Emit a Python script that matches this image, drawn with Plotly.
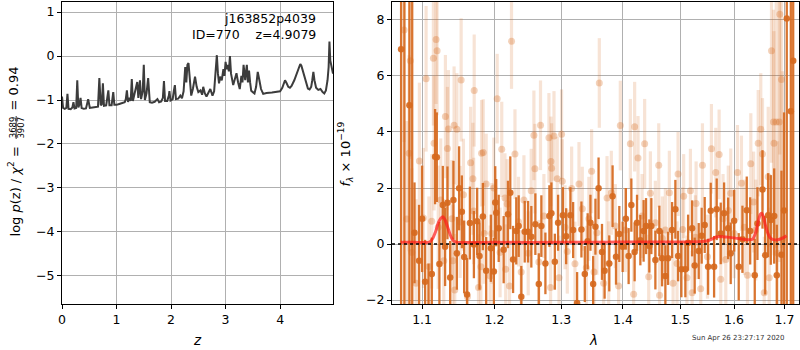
import plotly.graph_objects as go

# ---------------- data: left panel, log p(z) ----------------
PZ_Z = [
    0.00, 0.02, 0.05, 0.08, 0.10, 0.12, 0.16, 0.19, 0.21, 0.23,
    0.26, 0.28, 0.30, 0.32, 0.34, 0.36, 0.40, 0.44, 0.48, 0.51,
    0.56, 0.62, 0.66, 0.685, 0.71, 0.73, 0.75, 0.77, 0.81, 0.85,
    0.87, 0.91, 0.94, 0.96, 1.00, 1.05, 1.10, 1.15, 1.17, 1.19,
    1.21, 1.24, 1.26, 1.28, 1.30, 1.33, 1.36, 1.38, 1.40, 1.43,
    1.45, 1.48, 1.50, 1.52, 1.55, 1.58, 1.61, 1.65, 1.70, 1.75,
    1.78, 1.82, 1.85, 1.87, 1.89, 1.93, 1.96, 1.97, 1.99, 2.03,
    2.05, 2.07, 2.09, 2.13, 2.17, 2.20, 2.23, 2.26, 2.28, 2.30,
    2.32, 2.34, 2.37, 2.40, 2.44, 2.47, 2.50, 2.54, 2.57, 2.59,
    2.62, 2.65, 2.69, 2.72, 2.76, 2.79, 2.82, 2.84, 2.86, 2.88,
    2.90, 2.93, 2.96, 2.98, 3.00, 3.02, 3.04, 3.06, 3.08, 3.10,
    3.14, 3.17, 3.20, 3.23, 3.26, 3.29, 3.31, 3.33, 3.35, 3.36,
    3.38, 3.39, 3.41, 3.43, 3.45, 3.47, 3.50, 3.53, 3.56, 3.59,
    3.62, 3.65, 3.69, 3.75, 3.85, 3.95, 4.00, 4.04, 4.07, 4.09,
    4.12, 4.15, 4.18, 4.21, 4.26, 4.30, 4.34, 4.37, 4.39, 4.42,
    4.45, 4.48, 4.51, 4.54, 4.57, 4.59, 4.61, 4.63, 4.66, 4.70,
    4.74, 4.78, 4.81, 4.84, 4.87, 4.89, 4.905, 4.92, 4.94, 4.97,
]
PZ_LOGP = [
    -0.92, -1.18, -1.20, -1.18, -0.86, -1.20, -1.21, -1.17, -1.05, -1.19,
    -1.18, -0.55, -1.17, -1.10, -0.95, -1.18, -1.20, -1.19, -0.98, -1.18,
    -1.17, -1.16, -1.15, -0.50, -1.12, -1.10, -0.62, -1.13, -1.12, -0.78,
    -1.12, -1.12, -0.82, -1.11, -1.11, -1.09, -1.07, -1.05, -0.98, -0.78,
    -1.04, -0.95, -1.02, -0.52, -1.02, -0.85, -0.75, -0.59, -0.95, -0.55,
    -0.98, -0.80, -0.20, -1.00, -0.85, -0.50, -1.05, -1.06, -1.04, -0.98,
    -1.05, -1.03, -0.95, -0.57, -1.02, -1.02, -0.90, -0.80, -1.01, -0.98,
    -0.80, -0.66, -0.98, -0.97, -0.90, -0.96, -0.80, -0.25, -0.60, -0.20,
    -0.16, -0.55, -0.90, -0.75, -0.47, -0.70, -0.82, -0.78, -0.88, -0.70,
    -0.85, -0.92, -0.82, -0.75, -0.90, -0.80, -0.30, 0.02, -0.40, -0.62,
    -0.47, -0.55, -0.30, -0.45, -0.13, -0.30, -0.20, -0.35, 0.00, -0.40,
    -0.66, -0.50, -0.39, -0.60, -0.75, -0.45, -0.60, -0.20, -0.50, -0.55,
    -0.30, -0.20, -0.60, -0.33, -0.60, -0.79, -0.82, -0.85, -0.70, -0.36,
    -0.55, -0.75, -0.86, -0.84, -0.83, -0.82, -0.80, -0.72, -0.58, -0.55,
    -0.62, -0.70, -0.72, -0.68, -0.55, -0.42, -0.28, -0.18, -0.22, -0.35,
    -0.50, -0.65, -0.74, -0.76, -0.70, -0.55, -0.36, -0.55, -0.72, -0.77,
    -0.75, -0.82, -0.85, -0.78, -0.55, -0.25, 0.33, -0.10, -0.25, -0.40,
]

# ---------------- data: right panel, spectrum ----------------
DARK_WAVE = [
    1.0726, 1.0768, 1.0833, 1.0870, 1.0900, 1.0960, 1.1000, 1.1040, 1.1085, 1.1129,
    1.1173, 1.1196, 1.1231, 1.1277, 1.1308, 1.1340, 1.1377, 1.1422, 1.1469, 1.1500,
    1.1538, 1.1570, 1.1610, 1.1650, 1.1706, 1.1752, 1.1785, 1.1833, 1.1880, 1.1947,
    1.1990, 1.2010, 1.2024, 1.2060, 1.2132, 1.2195, 1.2229, 1.2270, 1.2317, 1.2353,
    1.2392, 1.2443, 1.2493, 1.2542, 1.2603, 1.2655, 1.2694, 1.2756, 1.2817, 1.2848,
    1.2901, 1.2952, 1.3026, 1.3078, 1.3145, 1.3188, 1.3251, 1.3320, 1.3374, 1.3420,
    1.3465, 1.3509, 1.3546, 1.3597, 1.3653, 1.3696, 1.3773, 1.3828, 1.3885, 1.3940,
    1.3996, 1.4050, 1.4097, 1.4143, 1.4199, 1.4240, 1.4297, 1.4353, 1.4395, 1.4452,
    1.4487, 1.4557, 1.4627, 1.4675, 1.4733, 1.4781, 1.4852, 1.4911, 1.4960, 1.5019,
    1.5091, 1.5141, 1.5214, 1.5261, 1.5335, 1.5390, 1.5446, 1.5509, 1.5558, 1.5621,
    1.5670, 1.5746, 1.5810, 1.5887, 1.5936, 1.6002, 1.6090, 1.6162, 1.6246, 1.6313,
    1.6403, 1.6456, 1.6556, 1.6610, 1.6669, 1.6722, 1.6790, 1.6843, 1.6938, 1.6990,
    1.7046, 1.7129, 1.7178,
]
DARK_FLUX = [
    6.95, -3.50, 4.95, 9.50, 0.40, -0.60, 0.90, -1.35, -2.30, -1.07,
    3.12, 3.10, -0.71, 1.39, -0.10, 1.47, -1.19, 1.57, -0.33, 1.99,
    1.15, -0.46, -1.80, 0.75, -0.02, 0.81, -0.43, 0.98, -0.95, -0.15,
    -0.98, 1.48, 1.12, 0.56, -0.20, 1.06, 1.83, -0.55, 0.47, 0.64,
    -1.88, 0.44, 0.44, 0.26, 0.71, -1.43, 0.64, -0.69, 1.00, 1.10,
    -0.63, 0.76, 1.03, 0.28, 1.03, 0.50, -2.10, 0.52, -1.07, 0.10,
    0.76, -1.43, 0.62, 1.99, -0.28, -0.95, -0.69, 1.71, -0.45, 0.36,
    -0.10, 0.90, -0.43, 1.39, -0.28, 0.76, 0.14, 0.47, 0.64, -0.07,
    0.64, -0.57, 0.47, -0.51, -1.14, -0.51, 0.50, 1.24, -0.43, -0.90,
    -0.90, 0.05, 0.56, -0.77, -0.25, 0.30, 0.68, -0.81, 1.19, -0.81,
    1.24, 0.38, 1.10, 0.56, -0.33, 0.83, -0.81, 0.17, 1.21, 0.47,
    -1.11, 0.73, 1.95, -0.40, 1.03, 0.86, 1.00, -1.11, -0.38, 1.20,
    8.05, 4.74, 6.54,
]
DARK_ERR = [
    12.0, 14.0, 11.0, 12.0, 1.8, 2.0, 1.9, 1.5, 1.6, 1.3,
    1.7, 1.6, 1.5, 1.4, 1.4, 1.3, 1.3, 1.4, 1.3, 1.5,
    1.3, 1.3, 1.3, 1.3, 1.2, 1.2, 1.2, 1.2, 1.2, 1.2,
    1.2, 1.3, 1.2, 1.2, 1.2, 1.2, 1.3, 1.2, 1.2, 1.1,
    1.1, 1.1, 1.1, 1.1, 1.1, 1.1, 1.1, 1.1, 1.1, 1.1,
    1.0, 1.0, 1.0, 1.0, 1.0, 1.0, 1.1, 1.0, 1.0, 1.0,
    1.0, 1.0, 1.0, 1.1, 1.0, 1.0, 1.0, 1.1, 1.0, 1.0,
    0.9, 1.1, 1.0, 0.95, 1.05, 1.0, 0.9, 1.1, 1.0, 0.95,
    1.0, 1.05, 0.9, 1.0, 1.1, 0.95, 1.0, 1.05, 0.9, 1.0,
    1.0, 1.0, 1.0, 1.0, 1.0, 1.0, 1.0, 1.0, 1.0, 1.1,
    1.1, 1.1, 1.1, 1.1, 1.1, 1.1, 1.2, 1.2, 1.2, 1.2,
    1.3, 1.3, 1.4, 1.4, 1.5, 1.6, 1.7, 1.8, 3.0, 3.5,
    12.0, 12.0, 12.0,
]

LIGHT_WAVE = [
    1.0764, 1.0799, 1.0829, 1.0845, 1.0865, 1.0920, 1.0964, 1.1017, 1.1053, 1.1090,
    1.1128, 1.1150, 1.1159, 1.1186, 1.1200, 1.1215, 1.1249, 1.1290, 1.1312, 1.1340,
    1.1353, 1.1400, 1.1414, 1.1431, 1.1440, 1.1469, 1.1514, 1.1528, 1.1560, 1.1616,
    1.1660, 1.1692, 1.1703, 1.1710, 1.1771, 1.1805, 1.1814, 1.1838, 1.1852, 1.1880,
    1.1937, 1.1961, 1.1990, 1.2038, 1.2080, 1.2104, 1.2151, 1.2162, 1.2184, 1.2218,
    1.2247, 1.2298, 1.2350, 1.2390, 1.2431, 1.2495, 1.2540, 1.2581, 1.2596, 1.2656,
    1.2681, 1.2733, 1.2810, 1.2835, 1.2841, 1.2851, 1.2888, 1.2939, 1.2966, 1.3006,
    1.3017, 1.3060, 1.3096, 1.3164, 1.3217, 1.3281, 1.3334, 1.3398, 1.3440, 1.3484,
    1.3523, 1.3570, 1.3609, 1.3680, 1.3736, 1.3763, 1.3807, 1.3873, 1.3928, 1.3957,
    1.4041, 1.4126, 1.4182, 1.4199, 1.4257, 1.4326, 1.4371, 1.4441, 1.4470, 1.4557,
    1.4616, 1.4630, 1.4680, 1.4733, 1.4804, 1.4870, 1.4941, 1.4959, 1.5042, 1.5060,
    1.5120, 1.5183, 1.5214, 1.5274, 1.5287, 1.5372, 1.5404, 1.5497, 1.5571, 1.5652,
    1.5716, 1.5746, 1.5790, 1.5842, 1.5890, 1.5937, 1.6002, 1.6066, 1.6143, 1.6200,
    1.6260, 1.6325, 1.6380, 1.6423, 1.6471, 1.6522, 1.6556, 1.6590, 1.6670, 1.6690,
    1.6736, 1.6776, 1.6786, 1.6831, 1.6857, 1.6892, 1.6904, 1.6938, 1.6959,
]
LIGHT_FLUX = [
    7.64, 0.89, 3.24, 6.54, -0.30, -1.40, 2.96, 0.93, 5.90, -0.80,
    0.81, 6.63, 3.60, 7.30, 6.90, 0.60, 1.57, -0.60, 4.55, 3.41,
    4.11, 0.90, -0.60, 4.24, -1.64, 4.10, 0.79, 5.86, 1.76, -1.88,
    2.90, 2.33, 1.18, 5.48, -1.55, -0.81, 3.24, 3.27, 0.38, 2.14,
    -1.14, 0.38, 2.00, 5.19, -0.30, 3.38, 1.64, -0.90, 1.43, -1.50,
    7.24, 3.21, 0.80, -1.00, 1.57, -0.33, 1.90, 3.88, 2.69, -0.64,
    4.24, 1.00, 3.79, -1.55, 2.95, 2.71, 3.86, 2.33, -1.20, 3.92,
    2.24, 0.60, -0.27, 1.98, -0.70, 2.14, 1.26, -0.85, 0.90, 2.60,
    -1.00, 0.40, 5.75, -1.40, 1.64, -0.69, 1.83, 0.64, -1.50, 4.23,
    0.50, 3.58, -1.79, 4.19, 3.07, 1.00, 3.58, -1.17, 1.81, 0.76,
    2.81, -1.83, 0.20, 0.50, 1.83, -1.40, -0.69, 2.50, 0.52, 1.71,
    -1.20, 1.90, -1.74, 0.24, 1.45, -1.60, 2.81, -0.45, 3.40, 2.55,
    3.20, -1.26, 0.90, -0.55, 1.20, 1.81, 0.38, 2.55, 2.17, 0.60,
    -1.11, 2.87, 1.50, 0.50, 3.60, 4.10, 3.21, -1.74, 2.40, -1.20,
    6.90, 4.36, 3.60, 4.36, -0.33, 4.36, 8.20, 5.87, 0.17,
]
LIGHT_ERR = [
    4.0, 3.5, 3.5, 3.5, 3.0, 3.0, 2.8, 2.5, 2.6, 2.5,
    2.4, 2.4, 2.4, 2.3, 2.3, 2.2, 2.2, 2.2, 2.2, 2.2,
    2.1, 2.1, 2.0, 2.1, 2.0, 2.0, 2.0, 2.2, 2.0, 2.0,
    2.0, 2.0, 1.9, 2.0, 1.9, 1.8, 1.9, 1.9, 1.8, 1.8,
    1.8, 1.8, 1.8, 1.6, 1.6, 1.7, 1.6, 1.6, 1.6, 1.6,
    1.7, 1.6, 1.6, 1.5, 1.6, 1.5, 1.5, 1.6, 1.6, 1.5,
    1.6, 1.5, 1.6, 1.5, 1.6, 1.6, 1.6, 1.5, 1.5, 1.6,
    1.5, 1.5, 1.5, 1.5, 1.5, 1.5, 1.5, 1.5, 1.5, 1.5,
    1.5, 1.5, 1.6, 1.5, 1.5, 1.5, 1.5, 1.5, 1.5, 1.6,
    1.5, 1.6, 1.5, 1.6, 1.5, 1.5, 1.6, 1.5, 1.5, 1.5,
    1.5, 1.5, 1.5, 1.5, 1.5, 1.5, 1.5, 1.5, 1.5, 1.5,
    1.5, 1.5, 1.5, 1.5, 1.5, 1.5, 1.5, 1.5, 1.6, 1.6,
    1.6, 1.6, 1.6, 1.6, 1.6, 1.6, 1.6, 1.7, 1.7, 1.7,
    1.7, 1.8, 1.8, 1.8, 1.9, 2.0, 2.0, 2.0, 2.5, 2.5,
    4.0, 4.0, 4.0, 4.5, 4.0, 5.0, 5.0, 6.0, 6.0,
]

MODEL_WAVE = [
    1.072, 1.090, 1.110, 1.114, 1.118, 1.122, 1.125, 1.128, 1.131, 1.135,
    1.139, 1.143, 1.147, 1.200, 1.300, 1.400, 1.480, 1.540, 1.550, 1.558,
    1.566, 1.574, 1.585, 1.600, 1.615, 1.628, 1.636, 1.642, 1.647, 1.651,
    1.654, 1.657, 1.661, 1.666, 1.671, 1.677, 1.686, 1.695, 1.704,
]
MODEL_FLUX = [
    0.06, 0.06, 0.07, 0.20, 0.45, 0.78, 0.92, 0.97, 0.85, 0.55,
    0.25, 0.10, 0.06, 0.06, 0.06, 0.07, 0.07, 0.09, 0.12, 0.18,
    0.25, 0.27, 0.25, 0.22, 0.18, 0.15, 0.17, 0.40, 0.80, 1.05,
    1.10, 1.00, 0.70, 0.40, 0.22, 0.16, 0.15, 0.20, 0.30,
]

Z_TICKS = [0, 1, 2, 3, 4]
LOGP_TICKS = [-5, -4, -3, -2, -1, 0, 1]
WAVE_TICKS = [1.1, 1.2, 1.3, 1.4, 1.5, 1.6, 1.7]
WAVE_TICK_TEXT = ["1.1", "1.2", "1.3", "1.4", "1.5", "1.6", "1.7"]
FLUX_TICKS = [-2, 0, 2, 4, 6, 8]

# ---------------- figure ----------------
FONT = "DejaVu Sans"
ORANGE = "rgba(214,105,30,0.92)"
ORANGE_LIGHT_PT = "rgba(214,105,30,0.30)"
ORANGE_LIGHT_BAR = "rgba(214,105,30,0.19)"

fig = go.Figure()

fig.add_trace(go.Scatter(
    x=PZ_Z, y=PZ_LOGP, mode="lines",
    line=dict(color="#3c3c3c", width=2),
    xaxis="x", yaxis="y", hoverinfo="skip",
))

fig.add_trace(go.Scatter(
    x=LIGHT_WAVE, y=LIGHT_FLUX, mode="markers",
    marker=dict(color=ORANGE_LIGHT_PT, size=7, line=dict(width=0)),
    error_y=dict(type="data", array=LIGHT_ERR, color=ORANGE_LIGHT_BAR,
                 thickness=3.2, width=0),
    xaxis="x2", yaxis="y2", hoverinfo="skip",
))

fig.add_trace(go.Scatter(
    x=DARK_WAVE, y=DARK_FLUX, mode="markers",
    marker=dict(color=ORANGE, size=6.5, line=dict(width=0)),
    error_y=dict(type="data", array=DARK_ERR, color=ORANGE,
                 thickness=2.3, width=0),
    xaxis="x2", yaxis="y2", hoverinfo="skip",
))

fig.add_trace(go.Scatter(
    x=MODEL_WAVE, y=MODEL_FLUX, mode="lines",
    line=dict(color="rgba(255,25,25,0.7)", width=3, shape="spline", smoothing=0.6),
    xaxis="x2", yaxis="y2", hoverinfo="skip",
))

# zero line
fig.add_shape(type="line", xref="x2 domain", yref="y2", x0=0, x1=1, y0=0, y1=0,
              line=dict(color="black", width=1.6, dash="dot"), layer="above")

axis_common = dict(
    showgrid=True, gridcolor="#b0b0b0", gridwidth=1,
    showline=True, mirror=True, linecolor="black", linewidth=1,
    ticks="outside", ticklen=4, tickwidth=1, tickcolor="black",
    zeroline=False, tickfont=dict(family=FONT, size=12.5, color="black"),
)

fig.update_layout(
    width=800, height=350,
    margin=dict(l=62, r=1, t=2, b=46),
    paper_bgcolor="white", plot_bgcolor="white",
    showlegend=False,
    font=dict(family=FONT, color="black"),
    xaxis=dict(domain=[0, 0.3677], range=[0, 4.97], tickvals=Z_TICKS,
               anchor="y", **axis_common),
    yaxis=dict(domain=[0, 1], range=[-5.64, 1.23], tickvals=LOGP_TICKS,
               anchor="x", **axis_common),
    xaxis2=dict(domain=[0.4478, 1], type="log", range=[0.0257, 0.2380],
                tickvals=WAVE_TICKS, ticktext=WAVE_TICK_TEXT,
                anchor="y2", **axis_common),
    yaxis2=dict(domain=[0, 1], range=[-2.14, 8.64], tickvals=FLUX_TICKS,
                anchor="x2", **axis_common),
)

ann = []
# labels in left panel
ann.append(dict(text="j163852p4039", xref="x domain", yref="y domain",
                x=0.9446, y=0.944, xanchor="right", yanchor="middle",
                showarrow=False, font=dict(family=FONT, size=12.5)))
ann.append(dict(text="ID=770\u00a0\u00a0\u00a0\u00a0z=4.9079", xref="x domain", yref="y domain",
                x=0.9446, y=0.891, xanchor="right", yanchor="middle",
                showarrow=False, font=dict(family=FONT, size=12.5)))
# x titles
ann.append(dict(text="<i>z</i>", xref="paper", yref="paper", x=0.1832, y=-0.1192,
                xanchor="center", yanchor="middle", showarrow=False,
                font=dict(family=FONT, size=13.5)))
ann.append(dict(text="<i>λ</i>", xref="paper", yref="paper", x=0.7218, y=-0.1192,
                xanchor="center", yanchor="middle", showarrow=False,
                font=dict(family=FONT, size=13.5)))
# left y title (with stacked fraction)
ann.append(dict(text="log <i>p</i>(z) / <i>χ</i><sup>2</sup> =", xref="paper", yref="paper",
                x=-0.0645, y=0.2185, xanchor="center", yanchor="bottom",
                textangle=-90, showarrow=False, font=dict(family=FONT, size=13)))
ann.append(dict(text="3689", xref="paper", yref="paper", x=-0.0668, y=0.5844,
                xanchor="center", yanchor="middle", textangle=-90, showarrow=False,
                font=dict(family=FONT, size=8.5)))
ann.append(dict(text="3907", xref="paper", yref="paper", x=-0.0569, y=0.5844,
                xanchor="center", yanchor="middle", textangle=-90, showarrow=False,
                font=dict(family=FONT, size=8.5)))
ann.append(dict(text="= 0.94", xref="paper", yref="paper", x=-0.0645, y=0.6358,
                xanchor="center", yanchor="bottom", textangle=-90, showarrow=False,
                font=dict(family=FONT, size=13)))
fig.add_shape(type="line", xref="paper", yref="paper", x0=-0.0622, x1=-0.0622,
              y0=0.5464, y1=0.6225, line=dict(color="black", width=0.8))
# right y title
ann.append(dict(text="<i>f</i><sub><i>λ</i></sub> × 10<sup>−19</sup>", xref="paper", yref="paper",
                x=0.384, y=0.495, xanchor="center", yanchor="middle", textangle=-90,
                showarrow=False, font=dict(family=FONT, size=13)))
# timestamp
ann.append(dict(text="Sun Apr 26 23:27:17 2020", xref="paper", yref="paper",
                x=0.9833, y=-0.114, xanchor="right", yanchor="middle", showarrow=False,
                font=dict(family=FONT, size=7, color="#333333")))
fig.update_layout(annotations=ann)

fig.write_html(
    "out.html",
    config={"displayModeBar": False},
    post_script="document.body.style.margin='0';document.body.style.padding='0';",
)
